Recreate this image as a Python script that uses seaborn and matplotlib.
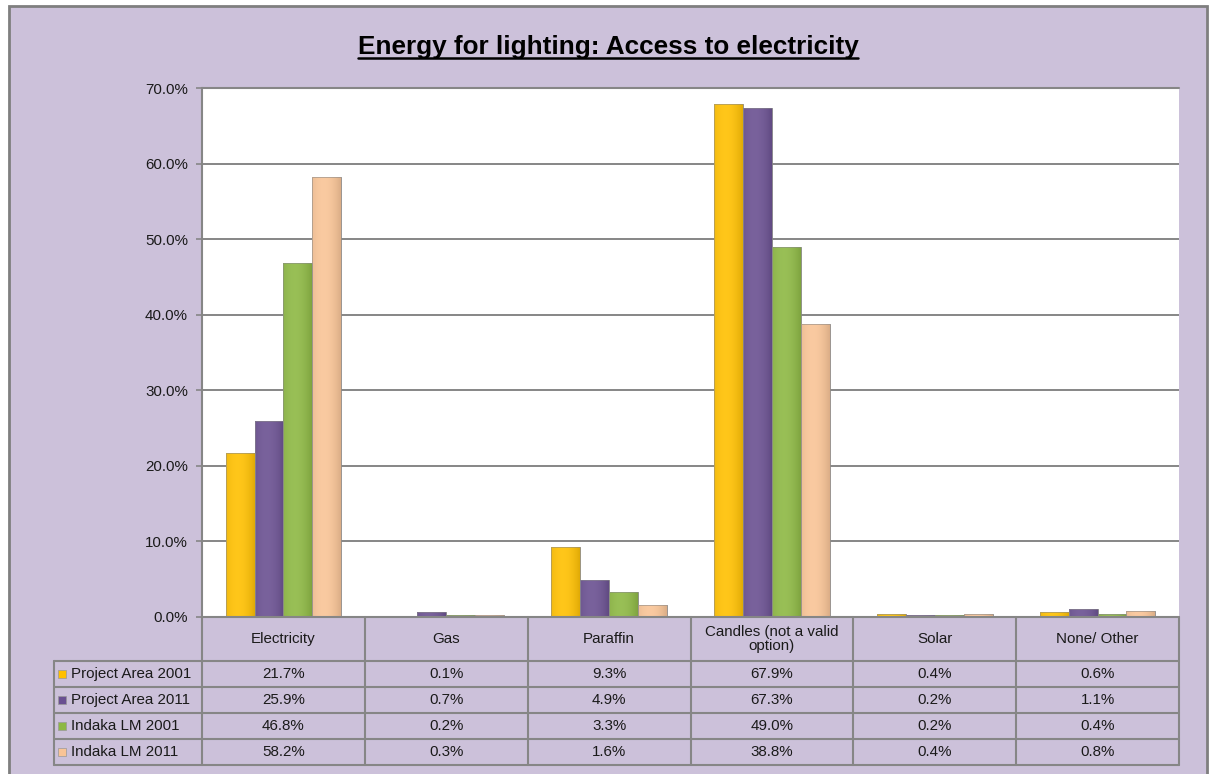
import numpy as np
import pandas as pd
import matplotlib
matplotlib.use("Agg")
import matplotlib.pyplot as plt
import seaborn as sns
from matplotlib.lines import Line2D
from matplotlib.patches import Rectangle
import matplotlib.colors as mcolors

# ---------------- data ----------------
categories = ["Electricity", "Gas", "Paraffin", "Candles (not a valid\noption)", "Solar", "None/ Other"]
series_names = ["Project Area 2001", "Project Area 2011", "Indaka LM 2001", "Indaka LM 2011"]
project_2001 = [21.7, 0.1, 9.3, 67.9, 0.4, 0.6]
project_2011 = [25.9, 0.7, 4.9, 67.3, 0.2, 1.1]
indaka_2001 = [46.8, 0.2, 3.3, 49.0, 0.2, 0.4]
indaka_2011 = [58.2, 0.3, 1.6, 38.8, 0.4, 0.8]
title = "Energy for lighting: Access to electricity"
yticks = [0, 10, 20, 30, 40, 50, 60, 70]

series_values = [project_2001, project_2011, indaka_2001, indaka_2011]
colors = ["#FFC000", "#6A5091", "#8DB843", "#F9C496"]

df = pd.DataFrame({
    "category": categories * 4,
    "series": np.repeat(series_names, len(categories)),
    "value": np.concatenate(series_values),
})

# ---------------- figure ----------------
W, H = 1212, 774
BG = "#CCC1DA"
GRID = "#868686"
FONT = ["Liberation Sans", "DejaVu Sans"]
FS = 10.9

sns.set_theme(style="white")
plt.rcParams["font.family"] = FONT

fig = plt.figure(figsize=(W / 100, H / 100), dpi=100)
fig.patch.set_facecolor("white")

# outer chart frame (lavender)
frame = Rectangle((9 / W, -0.02), (1207 - 9) / W, 1.02 - 6 / H,
                  transform=fig.transFigure, facecolor=BG,
                  edgecolor="#7F7F7F", linewidth=2, zorder=-10)
fig.add_artist(frame)

# plot area
L, R, T, B = 202, 1179, 88, 617
ax = fig.add_axes([L / W, 1 - B / H, (R - L) / W, (B - T) / H])
ax.set_facecolor("white")

sns.barplot(data=df, x="category", y="value", hue="series", order=categories,
            hue_order=series_names, palette=colors, width=0.71, gap=0,
            saturation=1, edgecolor="#7a7a7a", linewidth=0.4, legend=False, ax=ax)

ax.set_ylim(0, 70)
ax.set_xlim(-0.5, len(categories) - 0.5)
ax.set_yticks(yticks)
ax.set_yticklabels([f"{v:.1f}%" for v in yticks], fontsize=FS, color="#1a1a1a")
ax.set_xticks([])
ax.set_xlabel("")
ax.set_ylabel("")
ax.yaxis.grid(True, color=GRID, linewidth=1.4)
ax.set_axisbelow(True)
ax.tick_params(axis="y", which="both", left=True, length=4, width=1.2,
               color=GRID, pad=6)
for s in ["top", "right", "bottom"]:
    ax.spines[s].set_visible(False)
ax.spines["left"].set_color(GRID)
ax.spines["left"].set_linewidth(1.5)
ax.axhline(70, color=GRID, linewidth=1.5, clip_on=False)

# light bevel shading on bars
for p in list(ax.patches):
    x, y = p.get_x(), p.get_y()
    w, h = p.get_width(), p.get_height()
    if h <= 0:
        continue
    base = np.array(mcolors.to_rgb(p.get_facecolor()))
    grad = np.linspace(0, 1, 64)
    prof = np.clip(1 - 2.2 * (grad - 0.4) ** 2, 0, 1)
    img = np.empty((1, 64, 3))
    for i, f in enumerate(prof):
        c = base * (0.85 + 0.15 * f) + (1 - base) * 0.10 * f
        img[0, i] = np.clip(c, 0, 1)
    im = ax.imshow(img, extent=[x, x + w, y, y + h], aspect="auto",
                   interpolation="bilinear", zorder=p.get_zorder() + 0.1)
    im.set_clip_path(p)
    ax.add_patch(Rectangle((x, y), w, h, fill=False, edgecolor="#8a8a8a",
                           linewidth=0.4, zorder=p.get_zorder() + 0.2))
ax.set_xlim(-0.5, len(categories) - 0.5)
ax.set_ylim(0, 70)


# ---------------- data table ----------------
def ya(py):
    return (B - py) / (B - T)


def xa(px):
    return (px - L) / (R - L)


row_edges = [617, 661, 687, 713, 739, 765]
ncat = len(categories)
lkw = dict(transform=ax.transAxes, color=GRID, linewidth=1.5, clip_on=False)

ax.add_line(Line2D([0, 1], [ya(row_edges[0])] * 2, **lkw))
for ry in row_edges[1:]:
    ax.add_line(Line2D([xa(54), 1], [ya(ry)] * 2, **lkw))
for i in range(ncat + 1):
    xx = i / ncat
    ax.add_line(Line2D([xx, xx], [ya(617), ya(765)], **lkw))
ax.add_line(Line2D([xa(54), xa(54)], [ya(661), ya(765)], **lkw))

for i, cat in enumerate(categories):
    ax.text((i + 0.5) / ncat, ya(639), cat, transform=ax.transAxes,
            ha="center", va="center", fontsize=FS, color="#1a1a1a",
            linespacing=1.0)

for r, (name, vals) in enumerate(zip(series_names, series_values)):
    yc = ya((row_edges[r + 1] + row_edges[r + 2]) / 2)
    for i, v in enumerate(vals):
        ax.text((i + 0.5) / ncat, yc, f"{v:.1f}%", transform=ax.transAxes,
                ha="center", va="center", fontsize=FS, color="#1a1a1a")
    ax.add_patch(Rectangle((xa(58), yc - 4 / (B - T)), 8 / (R - L), 8 / (B - T),
                           transform=ax.transAxes, facecolor=colors[r],
                           edgecolor="#999999", linewidth=0.5, clip_on=False))
    ax.text(xa(71), yc, name, transform=ax.transAxes, ha="left", va="center",
            fontsize=FS, color="#1a1a1a")

# ---------------- title (bold, underlined) ----------------
t = fig.text(608 / W, 1 - 54 / H, title, ha="center", va="baseline",
             fontsize=18.8, fontweight="bold", color="#000000")
fig.canvas.draw()
bb = t.get_window_extent(renderer=fig.canvas.get_renderer())
uy = 1 - 58 / H
fig.add_artist(Line2D([bb.x0 / W, bb.x1 / W], [uy, uy], transform=fig.transFigure,
                      color="black", linewidth=1.8))

fig.savefig("out.png", dpi=100, facecolor=fig.get_facecolor())
